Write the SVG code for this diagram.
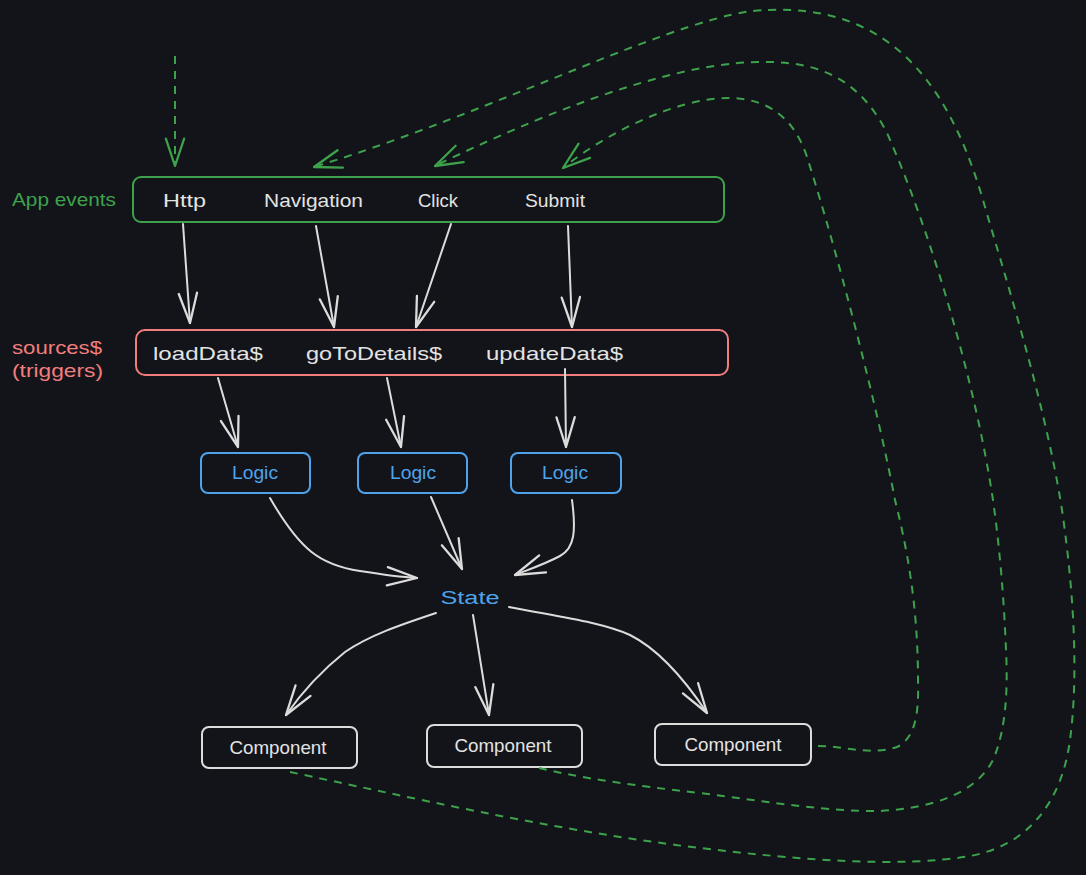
<svg xmlns="http://www.w3.org/2000/svg" width="1086" height="875" viewBox="0 0 1086 875">
<style>
  text { font-family: "Liberation Sans", "DejaVu Sans", sans-serif; }
  .w { fill: #e3e3e3; font-size: 19px; }
  .g { fill: #3ea24d; font-size: 19px; }
  .r { fill: #f27d7d; font-size: 19px; }
  .b { fill: #4ea3ec; font-size: 18px; }
  .box { fill: none; stroke-width: 2; stroke-linejoin: round; }
  .gbox { stroke: #3ea24d; }
  .rbox { stroke: #f27d7d; }
  .bbox { stroke: #4ea3ec; }
  .wbox { stroke: #dcdcdc; }
  .arrow { fill: none; stroke: #dcdcdc; stroke-width: 2; stroke-linecap: round; marker-end: url(#wh); }
  .dash { fill: none; stroke: #3ea24d; stroke-width: 2; stroke-dasharray: 8 7; marker-end: url(#gh); }
</style>
<defs>
  <marker id="wh" markerUnits="userSpaceOnUse" markerWidth="40" markerHeight="40" viewBox="-30 -15 35 30" refX="0" refY="0" orient="auto" overflow="visible">
    <path d="M-26,-8 L0,0 L-26,8" fill="none" stroke="#dcdcdc" stroke-width="2" stroke-linecap="round" stroke-linejoin="round"/>
  </marker>
  <marker id="gh" markerUnits="userSpaceOnUse" markerWidth="40" markerHeight="40" viewBox="-30 -15 35 30" refX="0" refY="0" orient="auto" overflow="visible">
    <path d="M-24,-8 L0,0 L-24,8" fill="none" stroke="#3ea24d" stroke-width="2" stroke-linecap="round" stroke-linejoin="round"/>
  </marker>
</defs>
<rect width="1086" height="875" fill="#121419"/>

<g id="labels">
  <text class="g" x="12" y="206" textLength="104" lengthAdjust="spacingAndGlyphs">App events</text>
  <text class="r" x="12" y="354" textLength="90" lengthAdjust="spacingAndGlyphs">sources$</text>
  <text class="r" x="12" y="377" textLength="91" lengthAdjust="spacingAndGlyphs">(triggers)</text>
</g>

<g id="app-events">
  <rect class="box gbox" x="133" y="177" width="591" height="45" rx="8"/>
  <text class="w" x="163" y="207" textLength="43" lengthAdjust="spacingAndGlyphs">Http</text>
  <text class="w" x="264" y="207" textLength="99" lengthAdjust="spacingAndGlyphs">Navigation</text>
  <text class="w" x="418" y="207" textLength="40" lengthAdjust="spacingAndGlyphs">Click</text>
  <text class="w" x="525" y="207" textLength="60" lengthAdjust="spacingAndGlyphs">Submit</text>
</g>

<g id="sources">
  <rect class="box rbox" x="136" y="330" width="592" height="45" rx="9"/>
  <text class="w" x="153" y="360" textLength="110" lengthAdjust="spacingAndGlyphs">loadData$</text>
  <text class="w" x="306" y="360" textLength="136" lengthAdjust="spacingAndGlyphs">goToDetails$</text>
  <text class="w" x="486" y="360" textLength="137" lengthAdjust="spacingAndGlyphs">updateData$</text>
</g>

<g id="logic1">
  <rect class="box bbox" x="201" y="453" width="109" height="40" rx="7"/>
  <text class="b" x="255" y="479" text-anchor="middle" textLength="46" lengthAdjust="spacingAndGlyphs">Logic</text>
</g>
<g id="logic2">
  <rect class="box bbox" x="358" y="453" width="109" height="40" rx="7"/>
  <text class="b" x="413" y="479" text-anchor="middle" textLength="46" lengthAdjust="spacingAndGlyphs">Logic</text>
</g>
<g id="logic3">
  <rect class="box bbox" x="511" y="453" width="110" height="40" rx="7"/>
  <text class="b" x="565" y="479" text-anchor="middle" textLength="46" lengthAdjust="spacingAndGlyphs">Logic</text>
</g>

<g id="state">
  <text class="b" x="470" y="604" text-anchor="middle" font-size="19" textLength="59" lengthAdjust="spacingAndGlyphs">State</text>
</g>

<g id="component1">
  <rect class="box wbox" x="202" y="727" width="155" height="41" rx="7"/>
  <text class="w" x="278" y="754" text-anchor="middle" font-size="17" textLength="97" lengthAdjust="spacingAndGlyphs">Component</text>
</g>
<g id="component2">
  <rect class="box wbox" x="427" y="725" width="155" height="42" rx="7"/>
  <text class="w" x="503" y="752" text-anchor="middle" font-size="17" textLength="97" lengthAdjust="spacingAndGlyphs">Component</text>
</g>
<g id="component3">
  <rect class="box wbox" x="655" y="724" width="156" height="41" rx="7"/>
  <text class="w" x="733" y="751" text-anchor="middle" font-size="17" textLength="97" lengthAdjust="spacingAndGlyphs">Component</text>
</g>

<g id="connectors">
  <path class="arrow" d="M183,224 L190,323"/>
  <path class="arrow" d="M316,226 L334,327"/>
  <path class="arrow" d="M451,224 L416,327"/>
  <path class="arrow" d="M568,226 L572,327"/>

  <path class="arrow" d="M218,378 L238,447"/>
  <path class="arrow" d="M387,378 L401,447"/>
  <path class="arrow" d="M565,369 L566,447"/>

  <path class="arrow" d="M270,498 C300,550 320,565 360,571 C385,575 400,577 417,578"/>
  <path class="arrow" d="M431,497 L462,569"/>
  <path class="arrow" d="M572,500 C576,530 575,548 560,556 C545,564 530,569 515,575"/>

  <path class="arrow" d="M436,613 C400,625 370,635 345,652 C320,672 300,695 286,715"/>
  <path class="arrow" d="M473,615 L489,715"/>
  <path class="arrow" d="M509,607 C560,617 600,622 630,635 C660,650 685,680 707,713"/>

  <path class="dash" d="M175,56 L175,166"/>
  <path class="dash" d="M818,746 C845,746 870,756 897,747 C915,738 919,715 918,680 C918,600 905,540 895,500 C880,420 840,260 807,157 C795,120 770,98 728,98 C680,98 610,130 563,168"/>
  <path class="dash" d="M539,768 C580,778 630,785 700,793 C770,802 830,812 880,811 C930,808 975,795 993,760 C1006,730 1008,690 1006,650 C1004,600 1000,550 993,500 C975,380 930,230 887,133 C860,80 820,62 767,62 C690,60 570,100 435,166"/>
  <path class="dash" d="M290,772 C400,795 550,830 700,848 C800,860 900,868 970,856 C1030,845 1062,800 1070,740 C1078,680 1075,600 1062,510 C1045,400 1000,260 983,200 C945,70 880,5 767,10 C690,10 500,110 314,167"/>
</g>
</svg>
